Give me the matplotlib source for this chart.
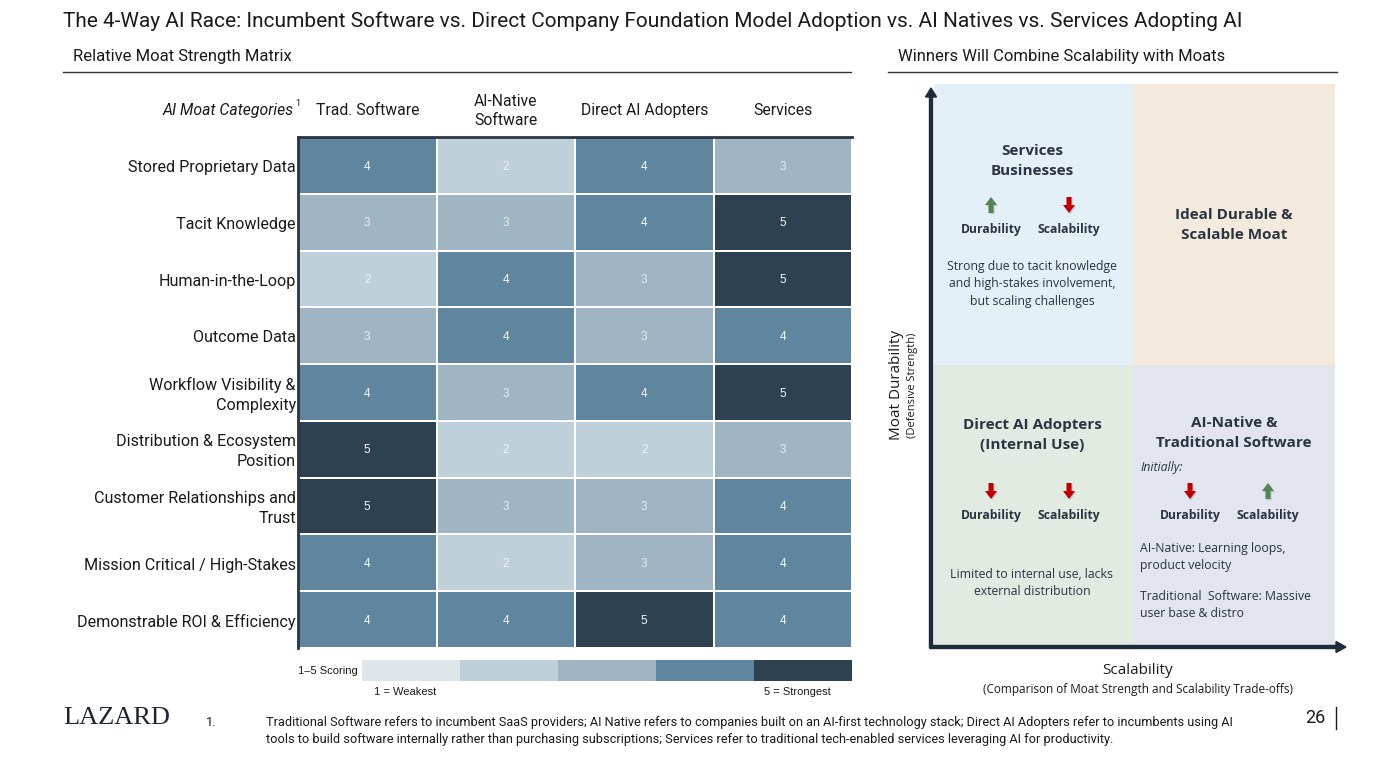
import numpy as np
import matplotlib
matplotlib.use("Agg")
import matplotlib.pyplot as plt
from matplotlib import font_manager
from matplotlib.colors import ListedColormap, BoundaryNorm
from matplotlib.patches import Rectangle, FancyArrow

# data
columns = ["Trad. Software", "AI-Native\nSoftware", "Direct AI Adopters", "Services"]
categories = ["Stored Proprietary Data", "Tacit Knowledge", "Human-in-the-Loop", "Outcome Data",
              "Workflow Visibility &\nComplexity", "Distribution & Ecosystem\nPosition",
              "Customer Relationships and\nTrust", "Mission Critical / High-Stakes",
              "Demonstrable ROI & Efficiency"]
trad_software = [4, 3, 2, 3, 4, 5, 5, 4, 4]
ai_native = [2, 3, 4, 4, 3, 2, 3, 2, 4]
direct_adopters = [4, 4, 3, 3, 4, 2, 3, 3, 5]
services = [3, 5, 5, 4, 5, 3, 4, 4, 4]
score_levels = [1, 2, 3, 4, 5]
score_colors = ["#dfe6ea", "#bfd0da", "#a0b5c3", "#5f859f", "#2e4150"]

names = {f.name for f in font_manager.fontManager.ttflist}
def pick(*fams):
    for f in fams:
        if f in names:
            return f
    return "DejaVu Sans"

NARROW = pick("Liberation Sans Narrow", "Roboto", "Liberation Sans")
ROUND = pick("Open Sans", "Noto Sans", "Lato")
ARIAL = pick("Liberation Sans", "DejaVu Sans")
SERIF = pick("Liberation Serif", "DejaVu Serif")
DARK = "#1f2a3a"

W, H = 1400, 781
fig = plt.figure(figsize=(W / 100, H / 100), dpi=100)
fig.patch.set_facecolor("white")

def px_axes(x0, y0, x1, y1):
    return fig.add_axes([x0 / W, 1 - y1 / H, (x1 - x0) / W, (y1 - y0) / H])

# overlay in pixel coords for titles etc
ov = fig.add_axes([0, 0, 1, 1])
ov.set_xlim(0, W)
ov.set_ylim(H, 0)
ov.axis("off")
ov.set_zorder(5)
ov.patch.set_alpha(0)

ov.text(63, 21, "The 4-Way AI Race: Incumbent Software vs. Direct Company Foundation Model Adoption vs. AI Natives vs. Services Adopting AI",
        fontsize=15, family=NARROW, color="#1a1a1a", va="center", ha="left")
ov.text(73, 57, "Relative Moat Strength Matrix", fontsize=12, family=NARROW, color="#1a1a1a", va="center")
ov.plot([63, 851], [71.5, 71.5], color="#333333", lw=1)
ov.text(898, 57, "Winners Will Combine Scalability with Moats", fontsize=12, family=NARROW, color="#1a1a1a", va="center")
ov.plot([888, 1337], [71.5, 71.5], color="#333333", lw=1)

# heatmap
vals = np.array([trad_software, ai_native, direct_adopters, services]).T
cmap = ListedColormap(score_colors)
norm = BoundaryNorm(np.arange(0.5, 6.5, 1), cmap.N)
hx = px_axes(298, 137, 852, 648)
hx.pcolormesh(vals, cmap=cmap, norm=norm, edgecolors="white", linewidth=1.2)
hx.set_xlim(0, len(columns))
hx.set_ylim(len(categories), 0)
hx.set_xticks([])
hx.set_yticks([])
for s in ["right", "bottom"]:
    hx.spines[s].set_visible(False)
for s in ["top", "left"]:
    hx.spines[s].set_color("#2b3442")
    hx.spines[s].set_linewidth(2)
for i in range(len(categories)):
    for j in range(len(columns)):
        v = vals[i, j]
        hx.text(j + 0.5, i + 0.52, str(v), ha="center", va="center", fontsize=8.5, family=ARIAL,
                color="white", alpha=0.95 if v >= 4 else 0.75)
    hx.text(-0.015, i + 0.54, categories[i], ha="right", va="center", fontsize=11.6, family=NARROW,
            color="#1a1a1a", linespacing=1.4, clip_on=False)
for j, c in enumerate(columns):
    hx.text(j + 0.5, -0.46, c, ha="center", va="center", fontsize=11.3, family=NARROW,
            color="#1a1a1a", linespacing=1.35, clip_on=False)
ov.text(294, 110, "AI Moat Categories", ha="right", va="center", fontsize=11.3, family=NARROW,
        style="italic", color="#1a1a1a")
ov.text(295, 103, "1", ha="left", va="center", fontsize=6.5, family=NARROW, color="#1a1a1a")

# scoring legend
lx = px_axes(362, 660, 852, 681)
lx.imshow([score_levels], cmap=cmap, norm=norm, aspect="auto")
lx.axis("off")
ov.text(358, 671, "1\u20135 Scoring", ha="right", va="center", fontsize=8, family=ARIAL, color="#1a1a1a")
ov.text(405, 692, "1 = Weakest", ha="center", va="center", fontsize=8, family=ARIAL, color="#1a1a1a")
ov.text(797, 692, "5 = Strongest", ha="center", va="center", fontsize=8, family=ARIAL, color="#1a1a1a")

# quadrant chart
quads = [(934, 84, 1133, 365, "#e3f0f8"), (1133, 84, 1335, 365, "#f3e9dc"),
         (934, 365, 1133, 645, "#e2ebe1"), (1133, 365, 1335, 645, "#e2e5ee")]
for x0, y0, x1, y1, c in quads:
    ov.add_patch(Rectangle((x0, y0), x1 - x0, y1 - y0, facecolor=c, edgecolor="none", zorder=1))
ov.add_patch(FancyArrow(931, 648, 0, -560, width=3, head_width=11, head_length=9,
                        length_includes_head=True, color=DARK, zorder=3))
ov.add_patch(FancyArrow(930, 647, 416, 0, width=3, head_width=11, head_length=10,
                        length_includes_head=True, color=DARK, zorder=3))
ov.text(897, 385, "Moat Durability", rotation=90, ha="center", va="center", fontsize=11,
        family=ROUND, color="#1a1a1a")
ov.text(913, 385, "(Defensive Strength)", rotation=90, ha="center", va="center", fontsize=8,
        family=ROUND, color="#1a1a1a")
ov.text(1138, 670, "Scalability", ha="center", va="center", fontsize=11, family=ROUND, color="#1a1a1a")
ov.text(1138, 689, "(Comparison of Moat Strength and Scalability Trade-offs)", ha="center",
        va="center", fontsize=8.5, family=ROUND, color="#1a1a1a")

GREEN, RED = "#548354", "#c00000"
def block_arrow(x, y, up):
    dy = -16 if up else 16
    y0 = y + 8 if up else y - 8
    for off, col, a in [(1.2, "#888888", 0.35), (0, GREEN if up else RED, 1)]:
        ov.add_patch(FancyArrow(x + off, y0 + off, 0, dy, width=5, head_width=12, head_length=8,
                                length_includes_head=True, color=col, alpha=a, lw=0, zorder=4))

def arrow_pair(cx, y, dur_up, scale_up):
    block_arrow(cx - 41, y, dur_up)
    block_arrow(cx + 37, y, scale_up)
    ov.text(cx - 41, y + 24, "Durability", ha="center", va="center", fontsize=8.7,
            fontweight="bold", family=ROUND, color="#2b3442")
    ov.text(cx + 37, y + 24, "Scalability", ha="center", va="center", fontsize=8.7,
            fontweight="bold", family=ROUND, color="#2b3442")

title_kw = dict(ha="center", va="center", fontsize=11, fontweight="bold", family=ROUND,
                color="#2b3442", linespacing=1.5)
body_kw = dict(fontsize=8.8, family=ROUND, color="#2b3442", linespacing=1.45)

ov.text(1032, 161, "Services\nBusinesses", **title_kw)
arrow_pair(1032, 205, True, False)
ov.text(1032, 284, "Strong due to tacit knowledge\nand high-stakes involvement,\nbut scaling challenges",
        ha="center", va="center", **body_kw)

ov.text(1234, 225, "Ideal Durable &\nScalable Moat", **title_kw)

ov.text(1032, 435, "Direct AI Adopters\n(Internal Use)", **title_kw)
arrow_pair(1032, 491, False, False)
ov.text(1032, 583, "Limited to internal use, lacks\nexternal distribution", ha="center", va="center", **body_kw)

ov.text(1234, 433, "AI-Native &\nTraditional Software", **title_kw)
ov.text(1140, 468, "Initially:", ha="left", va="center", style="italic", **body_kw)
arrow_pair(1231, 491, False, True)
ov.text(1140, 557, "AI-Native: Learning loops,\nproduct velocity", ha="left", va="center", **body_kw)
ov.text(1140, 605, "Traditional  Software: Massive\nuser base & distro", ha="left", va="center", **body_kw)

# footer
ov.text(63, 718, "LAZARD", ha="left", va="center", fontsize=19, family=SERIF, color="#1f2433")
ov.text(206, 722, "1.", ha="left", va="center", fontsize=9.2, family=NARROW, color="#1a1a1a")
ov.text(266, 731, "Traditional Software refers to incumbent SaaS providers; AI Native refers to companies built on an AI-first technology stack; Direct AI Adopters refer to incumbents using AI\n"
        "tools to build software internally rather than purchasing subscriptions; Services refer to traditional tech-enabled services leveraging AI for productivity.",
        ha="left", va="center", fontsize=9.2, family=NARROW, color="#1a1a1a", linespacing=1.4)
ov.text(1325, 718, "26", ha="right", va="center", fontsize=13, family=NARROW, color="#1a1a1a")
ov.plot([1336, 1336], [707, 729], color="#1a1a1a", lw=1)

fig.savefig("out.png", dpi=100)
